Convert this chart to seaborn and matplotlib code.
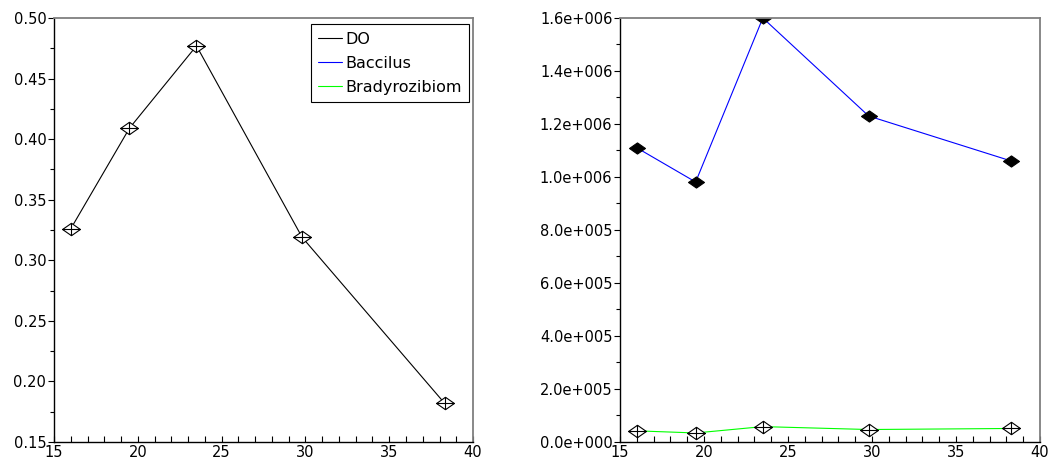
import matplotlib
matplotlib.use("Agg")
import matplotlib.pyplot as plt
import seaborn as sns
import numpy as np
import pandas as pd
from matplotlib.path import Path
from matplotlib.lines import Line2D
from matplotlib.ticker import MultipleLocator, FuncFormatter

# ---- data ----
temperature = [16.0, 19.5, 23.5, 29.8, 38.3]
do_values = [0.326, 0.409, 0.477, 0.319, 0.182]
baccilus = [1.11e6, 0.981e6, 1.60e6, 1.23e6, 1.06e6]
bradyrozibiom = [4.2e4, 3.4e4, 5.8e4, 4.7e4, 5.1e4]
series_names = ["DO", "Baccilus", "Bradyrozibiom"]
series_colors = ["#000000", "#0000ff", "#00ff00"]

sns.set_theme(style="white")
plt.rcParams["font.family"] = ["DejaVu Sans"]
plt.rcParams["font.size"] = 10.5
plt.rcParams["text.color"] = "black"
plt.rcParams["xtick.color"] = "black"
plt.rcParams["ytick.color"] = "black"
plt.rcParams["xtick.labelcolor"] = "black"
plt.rcParams["ytick.labelcolor"] = "black"

# marker shapes: wide diamond, and wide diamond with cross
dx, dy = 1.0, 0.7
diamond = Path([(-dx, 0), (0, dy), (dx, 0), (0, -dy), (-dx, 0)],
               [Path.MOVETO, Path.LINETO, Path.LINETO, Path.LINETO, Path.CLOSEPOLY])
cross_diamond = Path(
    [(-dx, 0), (0, dy), (dx, 0), (0, -dy), (-dx, 0),
     (-dx, 0), (dx, 0), (0, dy), (0, -dy)],
    [Path.MOVETO, Path.LINETO, Path.LINETO, Path.LINETO, Path.CLOSEPOLY,
     Path.MOVETO, Path.LINETO, Path.MOVETO, Path.LINETO])

fig = plt.figure(figsize=(10.59, 4.68), dpi=100)
ax1 = fig.add_axes([0.051, 0.0556, 0.3957, 0.906])
ax2 = fig.add_axes([0.5855, 0.0556, 0.3966, 0.906])

df = pd.DataFrame({"T": temperature, "DO": do_values,
                   "Baccilus": baccilus, "Bradyrozibiom": bradyrozibiom})

open_size = 12.8
filled_size = 11.5

# left: DO
sns.lineplot(data=df, x="T", y="DO", ax=ax1, color=series_colors[0], linewidth=0.8,
             marker=cross_diamond, markersize=open_size, markerfacecolor="white",
             markeredgecolor="black", markeredgewidth=0.8)

# right: Baccilus and Bradyrozibiom
sns.lineplot(data=df, x="T", y="Baccilus", ax=ax2, color=series_colors[1], linewidth=0.8,
             marker=diamond, markersize=filled_size, markerfacecolor="black",
             markeredgecolor="black", markeredgewidth=0.8)
sns.lineplot(data=df, x="T", y="Bradyrozibiom", ax=ax2, color=series_colors[2], linewidth=0.8,
             marker=cross_diamond, markersize=open_size, markerfacecolor="white",
             markeredgecolor="black", markeredgewidth=0.8)

ax1.set_xlim(15, 40)
ax1.set_ylim(0.15, 0.50)
ax2.set_xlim(15, 40)
ax2.set_ylim(0, 1.6e6)

def sci_fmt(v, pos):
    if v == 0:
        return "0.0e+000"
    e = int(np.floor(np.log10(abs(v))))
    m = v / 10 ** e
    if round(m, 1) >= 10:
        m /= 10
        e += 1
    sign = "+" if e >= 0 else "-"
    return f"{m:.1f}e{sign}{abs(e):03d}"

ax1.yaxis.set_major_locator(MultipleLocator(0.05))
ax1.yaxis.set_minor_locator(MultipleLocator(0.025))
ax1.yaxis.set_major_formatter(FuncFormatter(lambda v, p: f"{v:.2f}"))
ax2.yaxis.set_major_locator(MultipleLocator(2e5))
ax2.yaxis.set_minor_locator(MultipleLocator(1e5))
ax2.yaxis.set_major_formatter(FuncFormatter(sci_fmt))

for ax in (ax1, ax2):
    ax.set_xlabel("")
    ax.set_ylabel("")
    ax.xaxis.set_major_locator(MultipleLocator(5))
    ax.xaxis.set_minor_locator(MultipleLocator(1))
    ax.tick_params(axis="x", which="both", direction="in", length=4, width=0.8,
                   color="black", labelcolor="black", bottom=True, top=False,
                   labelsize=10.5, pad=2)
    ax.tick_params(axis="y", which="major", direction="out", length=4, width=0.8,
                   color="black", labelcolor="black", left=True, right=False,
                   labelsize=10.5, pad=1.5)
    ax.tick_params(axis="y", which="minor", direction="out", length=3, width=0.8,
                   color="black", left=True, right=False)
    for side in ("left", "bottom"):
        ax.spines[side].set_color("black")
        ax.spines[side].set_linewidth(1.0)
    for side in ("top", "right"):
        ax.spines[side].set_color("#7f7f7f")
        ax.spines[side].set_linewidth(1.3)
        ax.spines[side].set_visible(True)
    ax.grid(False)
    ax.set_facecolor("white")

handles = [Line2D([], [], color=c, linewidth=0.8) for c in series_colors]
leg = ax1.legend(handles, series_names, loc="upper right", bbox_to_anchor=(0.99, 0.985),
                 frameon=True, fancybox=False, framealpha=1, edgecolor="black",
                 fontsize=11.5, handlelength=1.5, handletextpad=0.2,
                 borderpad=0.45, labelspacing=0.58, borderaxespad=0.0)
leg.get_frame().set_linewidth(0.8)
for t in leg.get_texts():
    t.set_color("black")

fig.savefig("out.png", dpi=100, facecolor="white")
